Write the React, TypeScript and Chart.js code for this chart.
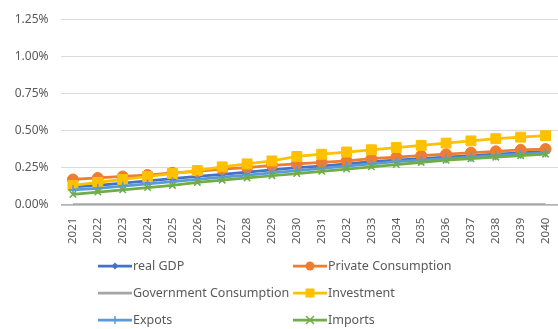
import React, { useEffect, useRef } from "react";
import { Chart, registerables } from "chart.js";

Chart.register(...registerables);

const years = ["2021","2022","2023","2024","2025","2026","2027","2028","2029","2030","2031","2032","2033","2034","2035","2036","2037","2038","2039","2040"];
const yTicks = [0, 0.0025, 0.005, 0.0075, 0.01, 0.0125];

const realGDP = [0.12,0.13,0.145,0.16,0.175,0.19,0.205,0.22,0.235,0.25,0.26,0.275,0.29,0.30,0.31,0.32,0.33,0.34,0.35,0.36];
const privateConsumption = [0.17,0.18,0.19,0.20,0.215,0.225,0.24,0.25,0.265,0.275,0.285,0.295,0.31,0.32,0.33,0.34,0.35,0.36,0.37,0.375];
const governmentConsumption = [0,0,0,0,0,0,0,0,0,0,0,0,0,0,0,0,0,0,0,0];
const investment = [0.13,0.15,0.17,0.19,0.21,0.23,0.255,0.275,0.295,0.325,0.34,0.355,0.37,0.385,0.40,0.415,0.43,0.445,0.455,0.465];
const exportsData = [0.10,0.11,0.125,0.14,0.155,0.17,0.185,0.20,0.215,0.23,0.245,0.26,0.275,0.29,0.30,0.31,0.32,0.33,0.34,0.35];
const importsData = [0.07,0.085,0.10,0.115,0.13,0.15,0.165,0.18,0.195,0.21,0.225,0.24,0.255,0.27,0.285,0.30,0.31,0.32,0.33,0.34];

const seriesNames = ["real GDP", "Private Consumption", "Government Consumption", "Investment", "Expots", "Imports"];
const seriesColors = ["#4472C4", "#ED7D31", "#A5A5A5", "#FFC000", "#5B9BD5", "#70AD47"];
const seriesMarkers = ["rectRot", "circle", "none", "rect", "cross", "crossRot"];
const seriesRadius = [3.5, 5.5, 0, 7, 4.5, 4.5];

const FONT = "'Noto Sans', 'Open Sans', sans-serif";
const TEXT = "#595959";
const CANVAS_W = 566;
const CANVAS_H = 329;

function drawMarker(ctx: CanvasRenderingContext2D, style: string, x: number, y: number, r: number, color: string) {
  ctx.save();
  ctx.fillStyle = color;
  ctx.strokeStyle = color;
  ctx.lineWidth = 1.5;
  ctx.beginPath();
  if (style === "circle") {
    ctx.arc(x, y, r, 0, Math.PI * 2);
    ctx.fill();
  } else if (style === "rect") {
    ctx.fillRect(x - r, y - r, 2 * r, 2 * r);
  } else if (style === "rectRot") {
    ctx.moveTo(x, y - r); ctx.lineTo(x + r, y); ctx.lineTo(x, y + r); ctx.lineTo(x - r, y); ctx.closePath();
    ctx.fill();
  } else if (style === "cross") {
    ctx.moveTo(x, y - r); ctx.lineTo(x, y + r); ctx.moveTo(x - r, y); ctx.lineTo(x + r, y);
    ctx.stroke();
  } else if (style === "crossRot") {
    ctx.moveTo(x - r, y - r); ctx.lineTo(x + r, y + r); ctx.moveTo(x + r, y - r); ctx.lineTo(x - r, y + r);
    ctx.stroke();
  }
  ctx.restore();
}

const legendMarkerSize = [3.5, 4.5, 0, 4.5, 4, 4];

const legendPlugin = {
  id: "customLegend",
  afterDraw(chart: any) {
    const ctx: CanvasRenderingContext2D = chart.ctx;
    const colX = [98, 293];
    const rowY = [266, 293, 320];
    ctx.save();
    ctx.font = `12.5px ${FONT}`;
    ctx.textBaseline = "middle";
    seriesNames.forEach((name, i) => {
      const x = colX[i % 2];
      const y = rowY[Math.floor(i / 2)];
      ctx.strokeStyle = seriesColors[i];
      ctx.lineWidth = 2.75;
      ctx.beginPath();
      ctx.moveTo(x, y);
      ctx.lineTo(x + 34, y);
      ctx.stroke();
      if (seriesMarkers[i] !== "none") {
        drawMarker(ctx, seriesMarkers[i], x + 17, y, legendMarkerSize[i], seriesColors[i]);
      }
      ctx.fillStyle = TEXT;
      ctx.fillText(name, x + 35, y + 0.5);
    });
    ctx.restore();
  },
};

export default function App() {
  const ref = useRef<HTMLCanvasElement | null>(null);
  useEffect(() => {
    if (!ref.current) return;
    const allData = [realGDP, privateConsumption, governmentConsumption, investment, exportsData, importsData];
    const chart = new Chart(ref.current, {
      type: "line",
      data: {
        labels: years,
        datasets: allData.map((d, i) => ({
          label: seriesNames[i],
          data: d.map((v) => v / 100),
          borderColor: seriesColors[i],
          backgroundColor: seriesColors[i],
          borderWidth: 2.75,
          pointStyle: seriesMarkers[i] === "none" ? false : (seriesMarkers[i] as any),
          pointRadius: seriesRadius[i],
          pointBorderWidth: seriesMarkers[i] === "cross" || seriesMarkers[i] === "crossRot" ? 1.6 : 1,
          order: allData.length - 1 - i,
          tension: 0,
        })),
      },
      options: {
        animation: false,
        responsive: false,
        layout: { padding: { top: 2, right: 3.5, bottom: 80, left: 0 } },
        plugins: { legend: { display: false }, tooltip: { enabled: false } },
        scales: {
          x: {
            offset: true,
            grid: { display: false },
            border: { display: false },
            ticks: { color: TEXT, font: { family: FONT, size: 11.5 }, minRotation: 90, maxRotation: 90, padding: 5 },
          },
          y: {
            min: 0,
            max: 0.0125,
            afterBuildTicks: (axis: any) => { axis.ticks = yTicks.map((v) => ({ value: v })); },
            afterFit: (axis: any) => { axis.width = 60.5; },
            grid: {
              color: (c: any) => (c.tick && c.tick.value === 0 ? "#B4B4B4" : "#D9D9D9"),
              lineWidth: (c: any) => (c.tick && c.tick.value === 0 ? 1.75 : 1),
              drawTicks: false,
            },
            border: { display: false },
            ticks: {
              color: TEXT,
              font: { family: FONT, size: 12 },
              padding: 12,
              callback: (v: any) => (Number(v) * 100).toFixed(2) + "%",
            },
          },
        },
      },
      plugins: [legendPlugin],
    });
    return () => chart.destroy();
  }, []);
  return (
    <div style={{ position: "fixed", left: 0, top: 0, width: 558, height: 329, overflow: "hidden", background: "#fff" }}>
      <canvas ref={ref} width={CANVAS_W} height={CANVAS_H} style={{ width: CANVAS_W, height: CANVAS_H, display: "block" }} />
    </div>
  );
}
